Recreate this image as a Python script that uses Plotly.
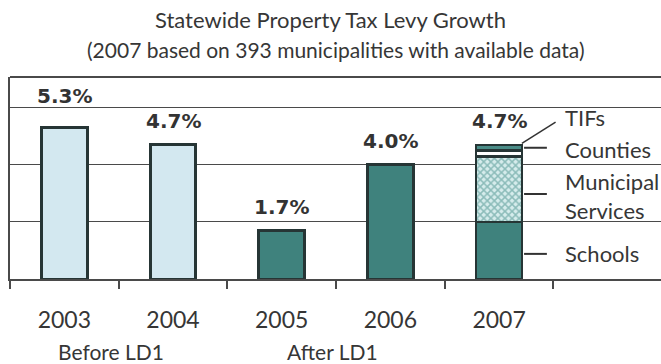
import plotly.graph_objects as go

# Levy growth by year (percent)
years = ["2003", "2004", "2005", "2006", "2007"]
before_years = ["2003", "2004"]
before_growth = [5.3, 4.7]
after_years = ["2005", "2006"]
after_growth = [1.7, 4.0]

# 2007 growth split by component (percent, stacked bottom to top)
components = ["Schools", "Municipal<br>Services", "Counties", "TIFs"]
component_growth = [2.0, 2.3, 0.2, 0.2]

total_labels = {"2003": 5.3, "2004": 4.7, "2005": 1.7, "2006": 4.0, "2007": 4.7}

LIGHT = "#d3e8f0"
TEAL = "#3f827d"
OUTLINE = "#263535"
GRID = "#4a4a4a"
TEXT = "#363636"
FONT = "Lato"
BAR_W = 0.42

fig = go.Figure()

fig.add_trace(go.Bar(
    x=before_years, y=before_growth, width=BAR_W, name="Before LD1",
    marker=dict(color=LIGHT, line=dict(color=OUTLINE, width=3)),
))
fig.add_trace(go.Bar(
    x=after_years, y=after_growth, width=BAR_W, name="After LD1",
    marker=dict(color=TEAL, line=dict(color=OUTLINE, width=3)),
))

segment_styles = [
    dict(color=TEAL),
    dict(color="#d6ecec", pattern=dict(shape="x", fgcolor="#3f8a85",
                                       bgcolor="#d6ecec", size=5, solidity=0.5)),
    dict(color="#ffffff"),
    dict(color="#4a8c87"),
]
for name, val, style in zip(components, component_growth, segment_styles):
    fig.add_trace(go.Bar(
        x=["2007"], y=[val], width=BAR_W, name=name,
        marker=dict(line=dict(color=OUTLINE, width=2.5), **style),
    ))

# Value labels above each bar (category index used as x position)
for yr, v in total_labels.items():
    fig.add_annotation(
        x=years.index(yr), y=v, text=f"{v:.1f}%", showarrow=False,
        yshift=32 if v > 5 else 24, yanchor="middle",
        font=dict(family="DejaVu Sans", size=20, color="#333333", weight="bold"),
    )

# Component labels and leader lines for the 2007 bar
idx07 = years.index("2007")
bar_right = idx07 + BAR_W / 2
total07 = sum(component_growth)
label_x = idx07 + 0.585
leader_end = idx07 + 0.44

comp_label_y = {"Schools": 0.91, "Municipal<br>Services": 2.91, "Counties": 4.55, "TIFs": 5.65}
leader_y = {"Schools": 0.88, "Municipal<br>Services": 2.98, "Counties": 4.6}
for name in components:
    fig.add_annotation(
        x=label_x, y=comp_label_y[name], text=name, showarrow=False,
        xanchor="left", yanchor="middle", align="left",
        font=dict(family=FONT, size=22, color=TEXT),
    )
    if name in leader_y:
        fig.add_shape(type="line", x0=bar_right + 0.02, x1=leader_end,
                      y0=leader_y[name], y1=leader_y[name],
                      line=dict(color="#333333", width=2))
fig.add_shape(type="line", x0=bar_right, y0=total07 + 0.05, x1=idx07 + 0.52, y1=5.5,
              line=dict(color="#333333", width=1.5))

# Period labels under the years
fig.add_annotation(x=0.43, y=-0.43, xref="x", yref="paper", text="Before LD1",
                   showarrow=False, font=dict(family=FONT, size=21, color=TEXT))
fig.add_annotation(x=2.47, y=-0.43, xref="x", yref="paper", text="After LD1",
                   showarrow=False, font=dict(family=FONT, size=21, color=TEXT))

# Subtitle
fig.add_annotation(x=0.5, xref="paper", y=1 + 27 / 202, yref="paper", showarrow=False,
                   yanchor="middle",
                   text="(2007 based on 393 municipalities with available data)",
                   font=dict(family=FONT, size=21, color=TEXT))

# Top border of the frame
fig.add_shape(type="line", xref="paper", yref="paper", x0=0, x1=1, y0=1, y1=1,
              line=dict(color=GRID, width=2))

fig.update_layout(
    width=661, height=364,
    margin=dict(l=10, r=0, t=77, b=85),
    paper_bgcolor="white", plot_bgcolor="white",
    barmode="stack", showlegend=False,
    title=dict(text="Statewide Property Tax Levy Growth", x=0.5, xanchor="center",
               y=1 - 20 / 364, yanchor="middle",
               font=dict(family=FONT, size=22, color=TEXT)),
    xaxis=dict(type="category", categoryorder="array", categoryarray=years,
               range=[-0.5, 5.49], tickson="boundaries", ticks="outside",
               ticklen=8, tickwidth=1.5, tickcolor=GRID,
               showline=True, linecolor=GRID, linewidth=2,
               ticklabelstandoff=19,
               tickfont=dict(family=FONT, size=23, color=TEXT), showgrid=False),
    yaxis=dict(range=[0, 7.08], dtick=2, showgrid=True, gridcolor=GRID, gridwidth=1.2,
               showline=True, linecolor=GRID, linewidth=2, zeroline=False,
               showticklabels=False, ticks=""),
)

fig.write_html("out.html")
